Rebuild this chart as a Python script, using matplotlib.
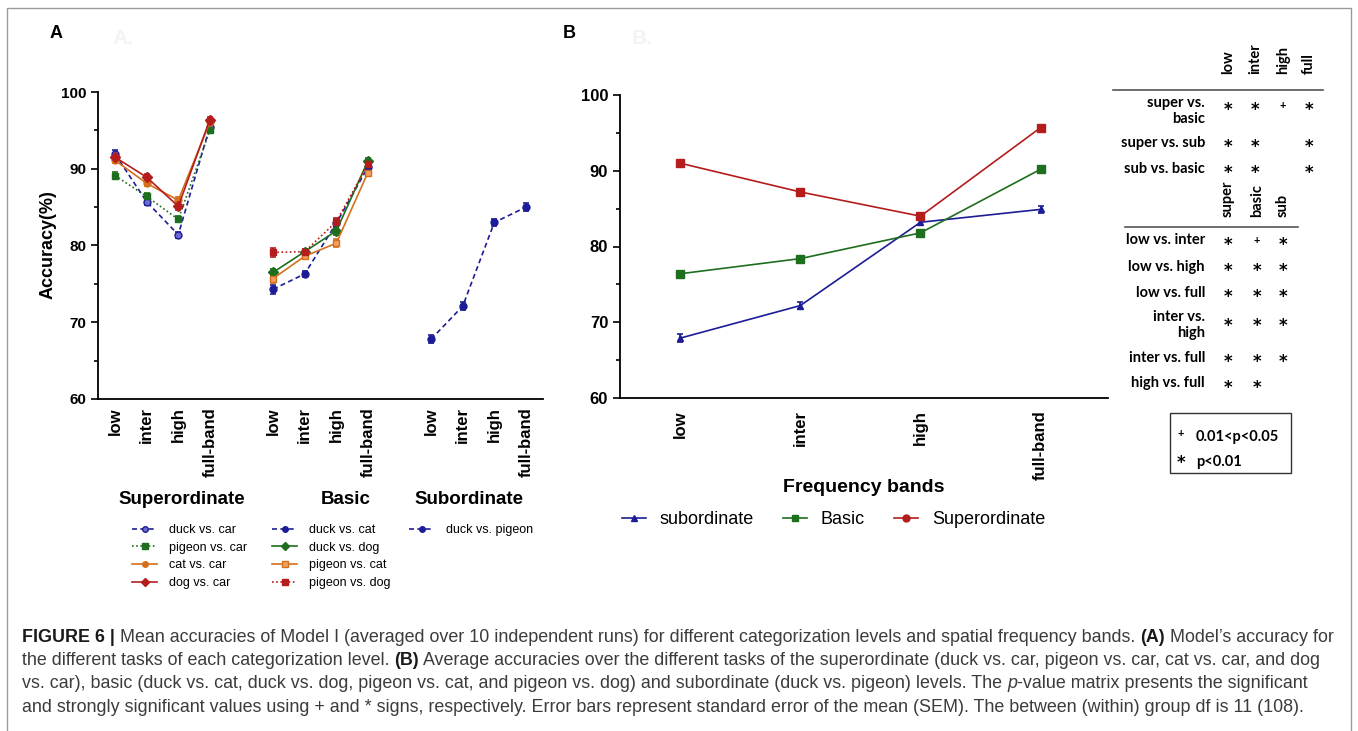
import matplotlib
matplotlib.use('Agg')
import matplotlib.pyplot as plt
from matplotlib.lines import Line2D
from matplotlib.patches import Rectangle
from matplotlib.transforms import blended_transform_factory
import numpy as np

plt.rcParams['font.family'] = ['Liberation Sans', 'DejaVu Sans']

W, H = 1358, 731

# ---- data, panel A ----
bands = ['low', 'inter', 'high', 'full-band']
levels = ['Superordinate', 'Basic', 'Subordinate']

super_tasks = ['duck vs. car', 'pigeon vs. car', 'cat vs. car', 'dog vs. car']
super_acc = [[91.9, 85.7, 81.4, 95.5],
             [89.1, 86.4, 83.4, 95.0],
             [91.1, 88.1, 85.9, 96.1],
             [91.5, 88.9, 85.1, 96.4]]
super_sem = [[0.5, 0.4, 0.4, 0.4],
             [0.5, 0.4, 0.4, 0.3],
             [0.4, 0.4, 0.4, 0.3],
             [0.4, 0.4, 0.5, 0.3]]

basic_tasks = ['duck vs. cat', 'duck vs. dog', 'pigeon vs. cat', 'pigeon vs. dog']
basic_acc = [[74.3, 76.3, 82.9, 90.2],
             [76.5, 79.2, 81.9, 91.0],
             [75.7, 78.6, 80.3, 89.5],
             [79.1, 79.2, 83.1, 90.6]]
basic_sem = [[0.6, 0.4, 0.6, 0.5],
             [0.4, 0.4, 0.5, 0.4],
             [0.6, 0.4, 0.5, 0.4],
             [0.6, 0.4, 0.5, 0.4]]

sub_tasks = ['duck vs. pigeon']
sub_acc = [[67.8, 72.1, 83.0, 85.0]]
sub_sem = [[0.5, 0.5, 0.5, 0.5]]

# ---- data, panel B ----
avg_names = ['subordinate', 'Basic', 'Superordinate']
avg_sub = [67.9, 72.2, 83.2, 84.9]
avg_basic = [76.4, 78.4, 81.8, 90.2]
avg_super = [91.0, 87.2, 84.0, 95.7]
avg_sub_sem = [0.5, 0.5, 0.3, 0.5]
avg_basic_sem = [0.3, 0.2, 0.3, 0.3]
avg_super_sem = [0.2, 0.3, 0.2, 0.2]

# ---- p-value matrix ----
pair_rows = ['super vs.\nbasic', 'super vs. sub', 'sub vs. basic']
pair_cols = ['low', 'inter', 'high', 'full']
pair_sig = [['*', '*', '+', '*'],
            ['*', '*', '', '*'],
            ['*', '*', '', '*']]
band_rows = ['low vs. inter', 'low vs. high', 'low vs. full',
             'inter vs.\nhigh', 'inter vs. full', 'high vs. full']
band_cols = ['super', 'basic', 'sub']
band_sig = [['*', '+', '*'],
            ['*', '*', '*'],
            ['*', '*', '*'],
            ['*', '*', '*'],
            ['*', '*', '*'],
            ['*', '*', '']]

BLUE = '#1c1c96'
GREEN = '#1d6e1d'
ORANGE = '#d46f1c'
RED = '#b51c1c'


def px_rect(l, t, r, b):
    return [l / W, 1 - b / H, (r - l) / W, (b - t) / H]


def fx(x):
    return x / W


def fy(y):
    return 1 - y / H


fig = plt.figure(figsize=(W / 100, H / 100), dpi=100)

# outer frame
fig.add_artist(Rectangle((fx(7), -0.05), fx(1351 - 7), fy(8) + 0.05,
                         transform=fig.transFigure, fill=False,
                         edgecolor='#9a9a9a', lw=1.0))

# panel letters
fig.text(fx(50), fy(33), 'A', fontsize=13, weight='bold', va='center')
fig.text(fx(563), fy(33), 'B', fontsize=13, weight='bold', va='center')
fig.text(fx(112), fy(38), 'A.', fontsize=15, weight='bold', va='center', color='#f3f3f3')
fig.text(fx(632), fy(38), 'B.', fontsize=15, weight='bold', va='center', color='#f3f3f3')


def style_axis(ax, ysize):
    for s in ['top', 'right']:
        ax.spines[s].set_visible(False)
    for s in ['left', 'bottom']:
        ax.spines[s].set_linewidth(1.3)
    ax.set_ylim(60, 100)
    ax.set_yticks([60, 70, 80, 90, 100])
    ax.set_yticks([65, 75, 85, 95], minor=True)
    ax.tick_params(axis='y', which='major', length=5, width=1.2, labelsize=ysize)
    ax.tick_params(axis='y', which='minor', length=3, width=1.2)
    for lab in ax.get_yticklabels():
        lab.set_fontweight('bold')


# ---------------- panel A ----------------
axA = fig.add_axes(px_rect(98, 92, 543, 399))
style_axis(axA, 11)
axA.set_xlim(-0.54, 13.54)

super_style = [dict(color=BLUE, ls=(0, (3, 2)), marker='o', mfc='#6a6ad0'),
               dict(color=GREEN, ls=(0, (1, 1.5)), marker='s', mfc=GREEN),
               dict(color=ORANGE, ls='-', marker='o', mfc=ORANGE),
               dict(color=RED, ls='-', marker='D', mfc=RED)]
basic_style = [dict(color=BLUE, ls=(0, (3, 2)), marker='o', mfc=BLUE),
               dict(color=GREEN, ls='-', marker='D', mfc=GREEN),
               dict(color=ORANGE, ls='-', marker='s', mfc='#f0a060'),
               dict(color=RED, ls=(0, (1, 1.5)), marker='s', mfc=RED)]
sub_style = [dict(color=BLUE, ls=(0, (3, 2)), marker='o', mfc=BLUE)]

groups = [(super_tasks, super_acc, super_sem, super_style),
          (basic_tasks, basic_acc, basic_sem, basic_style),
          (sub_tasks, sub_acc, sub_sem, sub_style)]

handlesA = []
for g, (tasks, acc, sem, styles) in enumerate(groups):
    xs = np.arange(len(bands)) + 5 * g
    hs = []
    for name, vals, err, st in zip(tasks, acc, sem, styles):
        axA.errorbar(xs, vals, yerr=err, color=st['color'], ls=st['ls'], lw=1.2,
                     marker=st['marker'], ms=5, mfc=st['mfc'], mec=st['color'],
                     capsize=2, elinewidth=1.2, capthick=1.2, label=name)
        hs.append(Line2D([], [], color=st['color'], ls=st['ls'], lw=1.2,
                         marker=st['marker'], ms=4, mfc=st['mfc'], mec=st['color']))
    handlesA.append((hs, tasks))

tick_pos = np.concatenate([np.arange(4) + 5 * g for g in range(3)])
axA.set_xticks(tick_pos, bands * 3, rotation=90, fontsize=12, fontweight='bold')
axA.tick_params(axis='x', length=0, pad=6)

# group names under the tick labels
group_x = [2.1, 7.3, 11.2]
trans = blended_transform_factory(axA.transData, fig.transFigure)
for gx, name in zip(group_x, levels):
    axA.text(gx, fy(499), name, transform=trans, ha='center', va='center',
             fontsize=13.5, weight='bold')

fig.text(fx(48), fy(245), 'Accuracy(%)', rotation=90, ha='center', va='center',
         fontsize=13, weight='bold')

legend_x = [132, 272, 409]
for (hs, tasks), lx in zip(handlesA, legend_x):
    fig.legend(hs, tasks, loc='upper left', bbox_to_anchor=(fx(lx), fy(524)),
               frameon=False, fontsize=9, handlelength=2.0, handletextpad=0.95,
               labelspacing=0.45, borderpad=0, borderaxespad=0, numpoints=1)

# ---------------- panel B ----------------
axB = fig.add_axes(px_rect(620, 95, 1108, 398))
style_axis(axB, 12)
axB.set_xlim(-0.5, 3.56)
xb = np.arange(len(bands))
axB.errorbar(xb, avg_sub, yerr=avg_sub_sem, color=BLUE, lw=1.2, marker='^', ms=5,
             capsize=2.5, elinewidth=1.2, capthick=1.2)
axB.errorbar(xb, avg_basic, yerr=avg_basic_sem, color=GREEN, lw=1.2, marker='s', ms=6,
             capsize=2, elinewidth=1.2)
axB.errorbar(xb, avg_super, yerr=avg_super_sem, color=RED, lw=1.2, marker='s', ms=6,
             capsize=2, elinewidth=1.2)
axB.set_xticks(xb, bands, rotation=90, fontsize=12, fontweight='bold')
axB.tick_params(axis='x', length=0, pad=9)
axB.set_xlabel('Frequency bands', fontsize=14, weight='bold', va='center')
axB.xaxis.set_label_coords(0.5, -(487 - 398) / 303)

hB = [Line2D([], [], color=BLUE, lw=1.2, marker='^', ms=5),
      Line2D([], [], color=GREEN, lw=1.2, marker='s', ms=5),
      Line2D([], [], color=RED, lw=1.2, marker='o', ms=5)]
fig.legend(hB, avg_names, loc='center left', bbox_to_anchor=(fx(622), fy(520)), ncol=3,
           frameon=False, fontsize=13, handlelength=1.35, handletextpad=0.75,
           columnspacing=1.6, borderpad=0, borderaxespad=0)

# ---------------- p-value matrix ----------------
tfont = dict(family=['Lato', 'DejaVu Sans'], weight='bold')
sfont = dict(family=['DejaVu Sans'], weight='bold')
col1_x = [1228, 1255, 1283, 1309]
col2_x = [1228, 1257, 1283]
row1_y = [111, 143, 169]
row1_star = [106, 143, 169]
row2_y = [240.5, 266.5, 293, 325, 358, 383.5]
row2_star = [240.5, 266.5, 293, 322, 358, 383.5]
label_right = 1205


def put_mark(cx, sy, s):
    if s == '*':
        fig.text(fx(cx), fy(sy + 4), s, ha='center', va='center', fontsize=12, **sfont)
    elif s == '+':
        fig.text(fx(cx), fy(sy), s, ha='center', va='center', fontsize=8, **tfont)


for cx, name in zip(col1_x, pair_cols):
    fig.text(fx(cx), fy(74), name, rotation=90, ha='center', va='bottom', fontsize=10.5, **tfont)
fig.add_artist(Line2D([fx(1113), fx(1323)], [fy(90), fy(90)], color='#555555', lw=1.2))
for ry, sy, name, sig in zip(row1_y, row1_star, pair_rows, pair_sig):
    fig.text(fx(label_right), fy(ry), name, ha='right', va='center', ma='right',
             fontsize=10.5, linespacing=1.2, **tfont)
    for cx, s in zip(col1_x, sig):
        put_mark(cx, sy, s)

for cx, name in zip(col2_x, band_cols):
    fig.text(fx(cx), fy(217), name, rotation=90, ha='center', va='bottom', fontsize=10.5, **tfont)
fig.add_artist(Line2D([fx(1125), fx(1298)], [fy(227), fy(227)], color='#555555', lw=1.2))
for ry, sy, name, sig in zip(row2_y, row2_star, band_rows, band_sig):
    fig.text(fx(label_right), fy(ry), name, ha='right', va='center', ma='right',
             fontsize=10.5, linespacing=1.2, **tfont)
    for cx, s in zip(col2_x, sig):
        put_mark(cx, sy, s)

fig.add_artist(Rectangle((fx(1170), fy(473)), fx(1291 - 1170), (473 - 413) / H,
                         transform=fig.transFigure, fill=False, edgecolor='#333333', lw=1.0))
put_mark(1181, 434, '+')
fig.text(fx(1196), fy(437), '0.01<p<0.05', ha='left', va='center', fontsize=10.5, **tfont)
put_mark(1181, 459, '*')
fig.text(fx(1196), fy(462), 'p<0.01', ha='left', va='center', fontsize=10.5, **tfont)

# ---------------- caption ----------------
cap_lines = [
    [('FIGURE 6 |', 'b'), (' Mean accuracies of Model I (averaged over 10 independent runs) for different '
                            'categorization levels and spatial frequency bands. ', 'n'),
     ('(A)', 'b'), (' Model\u2019s accuracy for', 'n')],
    [('the different tasks of each categorization level. ', 'n'), ('(B)', 'b'),
     (' Average accuracies over the different tasks of the superordinate (duck vs. car, pigeon vs. car, '
      'cat vs. car, and dog', 'n')],
    [('vs. car), basic (duck vs. cat, duck vs. dog, pigeon vs. cat, and pigeon vs. dog) and subordinate '
      '(duck vs. pigeon) levels. The ', 'n'), ('p', 'i'),
     ('-value matrix presents the significant', 'n')],
    [('and strongly significant values using + and * signs, respectively. Error bars represent standard '
      'error of the mean (SEM). The between (within) group df is 11 (108).', 'n')],
]
cap_y = [637, 660.5, 684, 707.5]

fig.canvas.draw()
renderer = fig.canvas.get_renderer()


def seg_props(kind, size):
    p = dict(fontsize=size, color='#3c3c3c')
    if kind == 'b':
        p.update(weight='bold', color='#1a1a1a')
    elif kind == 'i':
        p.update(style='italic')
    return p


def seg_width(txt, kind, size):
    t1 = fig.text(0, 0, txt + '|', **seg_props(kind, size))
    t2 = fig.text(0, 0, '|', **seg_props(kind, size))
    w = t1.get_window_extent(renderer).width - t2.get_window_extent(renderer).width
    t1.remove()
    t2.remove()
    return w


# fit the first line to its width in the reference
target = 1331 - 22
size = 11.0
w0 = sum(seg_width(t, k, size) for t, k in cap_lines[0])
size = size * target / w0

for parts, y in zip(cap_lines, cap_y):
    x = 22
    for txt, kind in parts:
        fig.text(fx(x), fy(y), txt, va='center', **seg_props(kind, size))
        x += seg_width(txt, kind, size)

fig.savefig('out.png', dpi=100)
